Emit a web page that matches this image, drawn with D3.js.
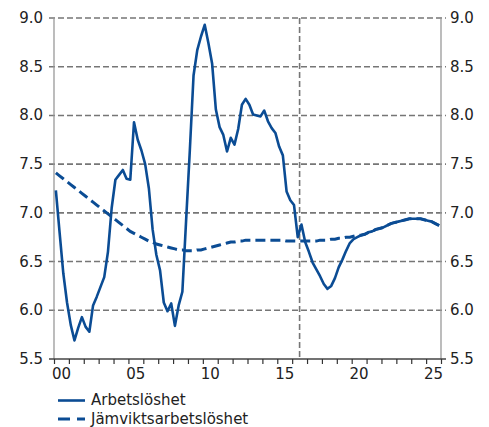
<!DOCTYPE html>
<html>
<head>
<meta charset="utf-8">
<script src="https://cdn.jsdelivr.net/npm/d3@7"></script>
<style>
  html, body { margin: 0; padding: 0; background: #fff; }
  svg { display: block; font-family: "DejaVu Sans", Verdana, sans-serif; }
</style>
</head>
<body>
<svg id="chart" width="489" height="427"></svg>
<script>
// Quarterly data, 2000Q1 .. 2025Q4
const startYear = 2000;
const unemployment = [
  7.23, 6.80, 6.38, 6.08,
  5.85, 5.69, 5.82, 5.93,
  5.83, 5.78, 6.05, 6.14,
  6.24, 6.34, 6.60, 7.05,
  7.34, 7.39, 7.44, 7.35,
  7.34, 7.93, 7.75, 7.64,
  7.50, 7.25, 6.83, 6.57,
  6.41, 6.08, 5.99, 6.07,
  5.84, 6.05, 6.19, 6.92,
  7.64, 8.41, 8.67, 8.81,
  8.93, 8.74, 8.53, 8.06,
  7.88, 7.80, 7.63, 7.77,
  7.70, 7.86, 8.11, 8.17,
  8.11, 8.01, 8.00, 7.99,
  8.05, 7.94, 7.87, 7.82,
  7.68, 7.59, 7.22, 7.13,
  7.08, 6.75, 6.88, 6.70,
  6.60, 6.49, 6.42, 6.35,
  6.27, 6.22, 6.25, 6.33,
  6.44, 6.52, 6.61, 6.69,
  6.73, 6.75, 6.77, 6.78,
  6.80, 6.81, 6.83, 6.84,
  6.85, 6.87, 6.89, 6.90,
  6.91, 6.92, 6.93, 6.94,
  6.94, 6.94, 6.94, 6.93,
  6.92, 6.91, 6.89, 6.87
];
const equilibrium = [
  7.41, 7.38, 7.35, 7.32,
  7.29, 7.26, 7.23, 7.20,
  7.17, 7.14, 7.11, 7.08,
  7.05, 7.02, 6.99, 6.96,
  6.93, 6.90, 6.87, 6.84,
  6.81, 6.79, 6.77, 6.75,
  6.73, 6.71, 6.70, 6.68,
  6.67, 6.66, 6.65, 6.64,
  6.63, 6.62, 6.62, 6.61,
  6.61, 6.61, 6.62, 6.62,
  6.63, 6.64, 6.65, 6.66,
  6.67, 6.68, 6.69, 6.70,
  6.70, 6.71, 6.71, 6.72,
  6.72, 6.72, 6.72, 6.72,
  6.72, 6.72, 6.72, 6.72,
  6.72, 6.72, 6.71, 6.71,
  6.71, 6.71, 6.71, 6.71,
  6.71, 6.71, 6.71, 6.72,
  6.72, 6.72, 6.73, 6.73,
  6.74, 6.74, 6.75, 6.75,
  6.76, 6.77, 6.77, 6.78,
  6.80, 6.81, 6.83, 6.84,
  6.85, 6.87, 6.89, 6.90,
  6.91, 6.92, 6.93, 6.94,
  6.94, 6.94, 6.94, 6.93,
  6.92, 6.91, 6.89, 6.87
];
const yTicks = [5.5, 6.0, 6.5, 7.0, 7.5, 8.0, 8.5, 9.0];
const xLabelYears = [2000, 2005, 2010, 2015, 2020, 2025];
const xLabels = ["00", "05", "10", "15", "20", "25"];
const forecastStart = 2016.5;
const seriesNames = ["Arbetslöshet", "Jämviktsarbetslöshet"];

const svg = d3.select("#chart");
const mLeft = 54, mRight = 441, mTop = 18, mBottom = 359;
const x = d3.scaleLinear().domain([2000, 2026]).range([mLeft, mRight]);
const y = d3.scaleLinear().domain([5.5, 9.0]).range([mBottom, mTop]);
const blue = "#0b4c94";
const gridColor = "#767676";
const fs = 15;

const tq = i => startYear + (i + 0.5) / 4;

// grid lines
svg.append("g").selectAll("line")
  .data(yTicks.filter(d => d > 5.5))
  .join("line")
  .attr("x1", mLeft - 5).attr("x2", mRight + 5)
  .attr("y1", d => y(d)).attr("y2", d => y(d))
  .attr("stroke", gridColor).attr("stroke-width", 1.6)
  .attr("stroke-dasharray", "6,3");

// vertical forecast line
svg.append("line")
  .attr("x1", x(forecastStart)).attr("x2", x(forecastStart))
  .attr("y1", mTop).attr("y2", mBottom)
  .attr("stroke", gridColor).attr("stroke-width", 1.6)
  .attr("stroke-dasharray", "6,3");

// side axes
[mLeft, mRight].forEach(px => {
  svg.append("line").attr("x1", px).attr("x2", px)
    .attr("y1", mTop).attr("y2", mBottom)
    .attr("stroke", "#999").attr("stroke-width", 1.3);
});
// bottom axis line
svg.append("line").attr("x1", mLeft - 5).attr("x2", mRight + 5)
  .attr("y1", mBottom).attr("y2", mBottom)
  .attr("stroke", "#444").attr("stroke-width", 1.3);

// x axis ticks
const xAxis = d3.axisBottom(x)
  .tickValues(d3.range(2000, 2027))
  .tickSize(5).tickFormat("");
const gx = svg.append("g").attr("transform", `translate(0,${mBottom})`).call(xAxis);
gx.select(".domain").remove();
gx.selectAll(".tick line").attr("stroke", "#333").attr("stroke-width", 1.2);

svg.append("g").selectAll("text")
  .data(xLabelYears)
  .join("text")
  .attr("x", d => x(d + 0.5)).attr("y", 379)
  .attr("text-anchor", "middle").attr("font-size", fs).attr("fill", "#222")
  .text((d, i) => xLabels[i]);

// y labels
const fmt = d3.format(".1f");
svg.append("g").selectAll("text").data(yTicks).join("text")
  .attr("x", mLeft - 11).attr("y", d => y(d) + 5)
  .attr("text-anchor", "end").attr("font-size", fs).attr("fill", "#222")
  .text(d => fmt(d));
svg.append("g").selectAll("text").data(yTicks).join("text")
  .attr("x", mRight + 9).attr("y", d => y(d) + 5)
  .attr("text-anchor", "start").attr("font-size", fs).attr("fill", "#222")
  .text(d => fmt(d));

// lines
const line = d3.line().x((d, i) => x(tq(i))).y(d => y(d));
svg.append("path").datum(equilibrium)
  .attr("d", line).attr("fill", "none")
  .attr("stroke", blue).attr("stroke-width", 3)
  .attr("stroke-dasharray", "10,5");
svg.append("path").datum(unemployment)
  .attr("d", line).attr("fill", "none")
  .attr("stroke", blue).attr("stroke-width", 2.6)
  .attr("stroke-linejoin", "round");

// legend
const lg = svg.append("g");
lg.append("line").attr("x1", 58).attr("x2", 85).attr("y1", 400.5).attr("y2", 400.5)
  .attr("stroke", blue).attr("stroke-width", 2.6);
lg.append("text").attr("x", 91).attr("y", 405).attr("font-size", fs).attr("fill", "#222")
  .text(seriesNames[0]);
lg.append("line").attr("x1", 58).attr("x2", 85).attr("y1", 419).attr("y2", 419)
  .attr("stroke", blue).attr("stroke-width", 3).attr("stroke-dasharray", "12,7");
lg.append("text").attr("x", 91).attr("y", 423.5).attr("font-size", fs).attr("fill", "#222")
  .text(seriesNames[1]);
</script>
</body>
</html>
